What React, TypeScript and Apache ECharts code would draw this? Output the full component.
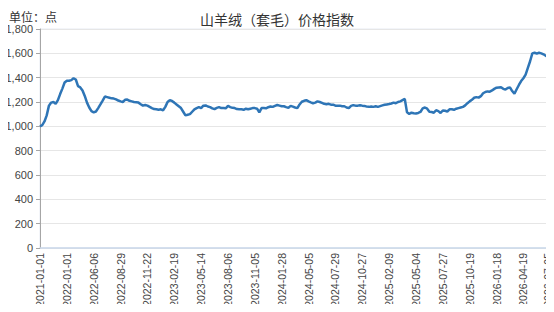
import React, { useEffect, useRef } from "react";
import * as echarts from "echarts";

const labelDates = [
  "2021-01-01", "2022-01-01", "2022-06-06", "2022-08-29", "2022-11-22",
  "2023-02-19", "2023-05-14", "2023-08-06", "2023-11-05", "2024-01-28",
  "2024-05-05", "2024-07-29", "2024-10-27", "2025-02-09", "2025-05-04",
  "2025-07-27", "2025-10-19", "2026-01-18", "2026-04-19", "2026-07-05",
];

const priceIndex = [
  1000, 1010, 1040, 1090, 1170, 1195, 1200, 1185, 1215, 1265, 1310, 1360,
  1375, 1375, 1380, 1395, 1385, 1330, 1320, 1295, 1250, 1195, 1155, 1125,
  1115, 1122, 1150, 1180, 1212, 1245, 1240, 1235, 1230, 1228, 1222, 1212,
  1205, 1200, 1218, 1220, 1210, 1205, 1200, 1198, 1195, 1182, 1170, 1175,
  1170, 1160, 1150, 1142, 1140, 1136, 1140, 1132, 1160, 1200, 1215, 1208,
  1195, 1180, 1165, 1150, 1120, 1090, 1095, 1100, 1120, 1140, 1150, 1158,
  1150, 1170, 1172, 1163, 1158, 1148, 1142, 1152, 1158, 1150, 1150, 1148,
  1168, 1158, 1152, 1150, 1142, 1140, 1140, 1136, 1145, 1140, 1145, 1150,
  1150, 1145, 1115, 1150, 1150, 1148, 1157, 1163, 1160, 1168, 1175, 1170,
  1165, 1165, 1158, 1152, 1168, 1162, 1155, 1150, 1180, 1202, 1210, 1215,
  1205, 1197, 1190, 1195, 1205, 1200, 1193, 1185, 1182, 1185, 1178, 1178,
  1170, 1170, 1170, 1165, 1165, 1155, 1150, 1168, 1174, 1170, 1170, 1174,
  1170, 1168, 1162, 1160, 1163, 1160, 1165, 1160, 1166, 1172, 1177, 1180,
  1183, 1188, 1195, 1190, 1200, 1205, 1215, 1225, 1115, 1102, 1112, 1108,
  1105, 1110, 1118, 1148, 1155, 1145, 1120, 1118, 1112, 1132, 1125, 1110,
  1130, 1128, 1122, 1140, 1140, 1136, 1145, 1150, 1155, 1160, 1172, 1190,
  1205, 1218, 1235, 1240, 1236, 1248, 1272, 1282, 1287, 1285, 1295, 1308,
  1318, 1320, 1322, 1308, 1302, 1315, 1320, 1290, 1268, 1305, 1340, 1372,
  1395, 1425, 1480, 1535, 1600, 1605, 1598, 1605, 1600, 1592, 1580, 1572,
];

const LABEL_STEP = 12;

function buildCategories(): string[] {
  const cats: string[] = [];
  const toStr = (t: number) => new Date(t).toISOString().slice(0, 10);
  for (let k = 0; k < labelDates.length - 1; k++) {
    const a = Date.parse(labelDates[k] + "T00:00:00Z");
    const b = Date.parse(labelDates[k + 1] + "T00:00:00Z");
    const remaining = priceIndex.length - 1 - k * LABEL_STEP;
    const n = Math.min(LABEL_STEP, remaining);
    const stepDays = Math.round((b - a) / 86400000 / n);
    for (let j = 0; j < n; j++) {
      cats.push(j === 0 ? labelDates[k] : toStr(a + j * stepDays * 86400000));
    }
  }
  cats.push(labelDates[labelDates.length - 1]);
  return cats;
}

const categories = buildCategories();

export default function App() {
  const ref = useRef<HTMLDivElement>(null);
  useEffect(() => {
    if (!ref.current) return;
    const chart = echarts.init(ref.current, undefined, { renderer: "svg" });
    const cjk = "'Noto Sans CJK SC', sans-serif";
    const num = "'Liberation Sans', Arial, sans-serif";
    const lastIdx = categories.length - 1;
    chart.setOption({
      animation: false,
      backgroundColor: "#ffffff",
      title: [
        {
          text: "山羊绒（套毛）价格指数",
          left: "center",
          top: 7,
          textStyle: { fontSize: 14, fontWeight: "normal", color: "#333", fontFamily: cjk },
        },
        {
          text: "单位：点",
          left: 4,
          top: 5,
          textStyle: { fontSize: 12, fontWeight: "normal", color: "#333", fontFamily: cjk },
        },
      ],
      grid: {
        left: 40,
        right: 6,
        top: 29,
        bottom: 64,
        show: true,
        borderColor: "#e6ebf2",
        borderWidth: 1,
      },
      xAxis: {
        type: "category",
        data: categories,
        boundaryGap: false,
        axisLine: { show: true, lineStyle: { color: "#cad8ea", width: 1.5 } },
        axisTick: { show: false },
        splitLine: { show: false },
        axisLabel: {
          rotate: 90,
          fontSize: 10.5,
          color: "#444",
          margin: 5,
          fontFamily: num,
          interval: (i: number) => i % LABEL_STEP === 0 || i === lastIdx,
        },
      },
      yAxis: {
        type: "value",
        min: 0,
        max: 1800,
        interval: 200,
        axisLine: { show: true, lineStyle: { color: "#a6a6a6" } },
        axisTick: { show: true, length: 4, lineStyle: { color: "#a6a6a6" } },
        splitLine: { show: true, lineStyle: { color: "#e6e6e6" } },
        axisLabel: {
          fontSize: 11,
          color: "#444",
          margin: 7,
          fontFamily: num,
          formatter: (v: number) => v.toLocaleString("en-US"),
        },
      },
      series: [
        {
          type: "line",
          data: priceIndex,
          showSymbol: false,
          symbol: "none",
          lineStyle: { color: "#2e75b6", width: 2.5 },
          itemStyle: { color: "#2e75b6" },
        },
      ],
    });
    return () => chart.dispose();
  }, []);
  return <div ref={ref} style={{ width: 554, height: 312, margin: -8 }} />;
}
